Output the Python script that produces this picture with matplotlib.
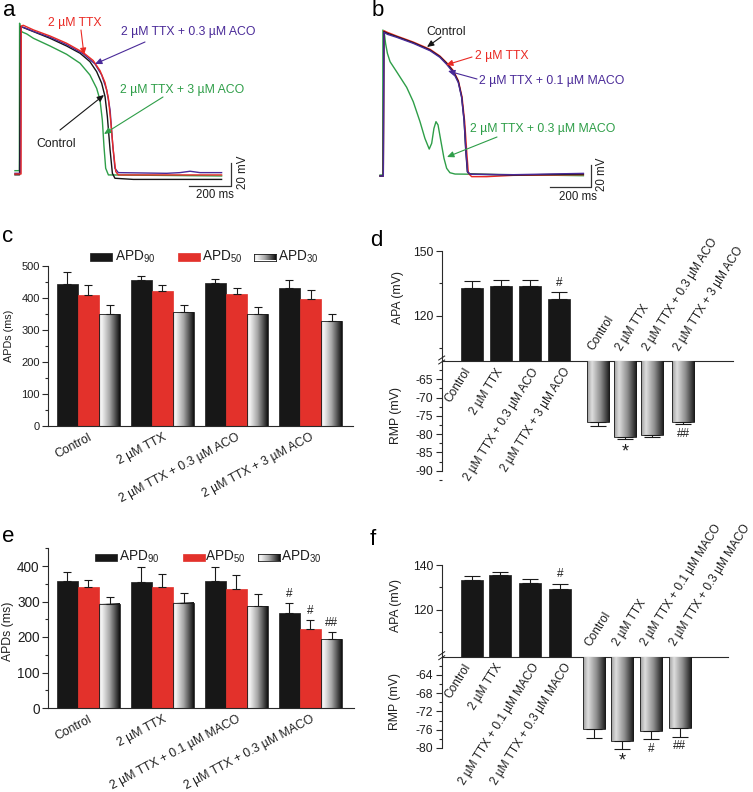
import numpy as np
import matplotlib
matplotlib.use("Agg")
import matplotlib.pyplot as plt
from matplotlib.colors import LinearSegmentedColormap
from matplotlib.patches import Rectangle
from matplotlib.lines import Line2D
from matplotlib.ticker import FixedLocator

plt.rcParams['font.family'] = ['Liberation Sans', 'DejaVu Sans']
plt.rcParams['mathtext.fontset'] = 'custom'
plt.rcParams['mathtext.rm'] = 'Liberation Sans'
plt.rcParams['mathtext.it'] = 'Liberation Sans:italic'
plt.rcParams['axes.unicode_minus'] = False

# ====================== DATA ======================
# Panel a: action potentials (time in ms, potential in mV)
a_ctrl_t = [-24, -2, 3, 16, 64, 143, 222, 286, 333, 365, 389, 405, 416, 429, 440, 452, 540, 960]
a_ctrl_v = [-84, -84, 45, 44, 40.5, 34.7, 28, 21.7, 14.4, 5.7, -4.4, -16, -33.4, -62.4, -82.7, -87, -88, -88]
a_ttx_t = [-24, 5, 6, 16, 64, 143, 222, 302, 349, 381, 405, 421, 433, 444, 456, 468, 960]
a_ttx_v = [-83.3, -83.3, 45.4, 46, 42, 36.7, 30.4, 22.2, 15.3, 6.6, -3.8, -17.5, -39.2, -62.4, -81.2, -84.1, -84.1]
a_aco03_t = [-24, 2, 5, 16, 64, 143, 222, 302, 357, 389, 413, 429, 441, 452, 468, 698, 762, 810, 857, 960]
a_aco03_v = [-82.7, -82.7, 44.3, 44.3, 40.8, 35.6, 29.2, 21.1, 12.4, 2.8, -10.2, -27.6, -56.6, -78.3, -82.1, -82.7, -82.1, -80.9, -82.1, -82.1]
a_aco3_t = [-24, -3, -2, 3, 10, 32, 64, 143, 222, 286, 333, 365, 381, 392, 400, 408, 421, 960]
a_aco3_v = [-80.4, -80.4, 47.8, 42, 40.2, 38.5, 34.7, 28, 20.8, 13, 2.8, -8.8, -18.9, -36.3, -59.5, -78.3, -84.1, -85]

# Panel b: action potentials (time in ms, potential in mV)
b_ctrl_t = [-16, 0, 3, 20, 65, 146, 228, 276, 309, 342, 366, 382, 394, 402, 410, 423, 634, 976]
b_ctrl_v = [-85, -85, 46.2, 44.7, 41.7, 36.2, 29.5, 23.5, 17.4, 9.8, 0.8, -12.9, -34.1, -61.4, -81.1, -83.2, -84.1, -83.2]
b_ttx_t = [-16, 0, 3, 20, 65, 146, 228, 276, 309, 342, 366, 384, 397, 407, 415, 431, 504, 634, 976]
b_ttx_v = [-85, -85, 47.1, 45.6, 42.3, 36.8, 30.2, 24.1, 18.0, 10.8, 1.7, -12.9, -35.6, -62.9, -82.6, -85.6, -85.6, -84.4, -83.8]
b_maco01_t = [-16, 0, 3, 20, 65, 146, 228, 276, 309, 342, 366, 382, 394, 403, 411, 426, 634, 976]
b_maco01_v = [-85, -85, 45.6, 43.8, 41.1, 35.6, 28.9, 22.9, 16.5, 8.9, -0.2, -13.5, -34.7, -62, -81.4, -83.5, -83.8, -82.6]
b_maco03_t = [-16, -3, -2, 5, 11, 20, 33, 65, 114, 146, 179, 203, 224, 236, 247, 257, 267, 280, 296, 309, 325, 350, 634, 976]
b_maco03_v = [-84.1, -84.1, 47.7, 44.7, 35.6, 26.5, 18.9, 9.8, -4.4, -17.4, -35.6, -50.8, -60.5, -55.3, -41.7, -35.6, -38.6, -52.3, -68.9, -78, -82, -83.2, -83.8, -84.7]

SCALE_MS = 200
SCALE_MV = 20

# Panel c: APDs (ms)
groups_c = ['Control', '2 µM TTX', '2 µM TTX + 0.3 µM ACO', '2 µM TTX + 3 µM ACO']
apd90_c = [443, 455, 446, 430]
apd90_c_err = [36, 13, 13, 24]
apd50_c = [407, 420, 413, 395]
apd50_c_err = [33, 21, 17, 29]
apd30_c = [348, 356, 349, 328]
apd30_c_err = [29, 20, 22, 22]

# Panel d: APA / RMP (mV)
groups_d = ['Control', '2 µM TTX', '2 µM TTX + 0.3 µM ACO', '2 µM TTX + 3 µM ACO']
apa_d = [133.1, 133.9, 133.6, 128.0]
apa_d_err = [3.1, 2.9, 2.8, 2.8]
rmp_d = [-76.7, -80.9, -80.3, -76.7]
rmp_d_err = [1.1, 0.5, 0.6, 0.6]
apa_d_sig = ['', '', '', '#']
rmp_d_sig = ['', '*', '', '##']

# Panel e: APDs (ms)
groups_e = ['Control', '2 µM TTX', '2 µM TTX + 0.1 µM MACO', '2 µM TTX + 0.3 µM MACO']
apd90_e = [358, 355, 357, 268]
apd90_e_err = [24, 43, 41, 29]
apd50_e = [341, 342, 335, 223]
apd50_e_err = [20, 35, 39, 24]
apd30_e = [293, 297, 286, 193]
apd30_e_err = [19, 28, 36, 22]
apd90_e_sig = ['', '', '', '#']
apd50_e_sig = ['', '', '', '#']
apd30_e_sig = ['', '', '', '##']

# Panel f: APA / RMP (mV)
groups_f = ['Control', '2 µM TTX', '2 µM TTX + 0.1 µM MACO', '2 µM TTX + 0.3 µM MACO']
apa_f = [133.3, 135.4, 132.1, 129.3]
apa_f_err = [1.8, 1.4, 1.8, 2.3]
rmp_f = [-75.8, -78.5, -76.3, -75.7]
rmp_f_err = [2.1, 1.7, 1.7, 1.8]
apa_f_sig = ['', '', '', '#']
rmp_f_sig = ['', '*', '#', '##']

legend_labels = ['APD$_{90}$', 'APD$_{50}$', 'APD$_{30}$']

# ====================== STYLE / LAYOUT ======================
W, H = 753, 792
fig = plt.figure(figsize=(W / 100, H / 100), dpi=100)

BLACK = '#171717'
RED = '#e3312b'
EDGE = '#1a1a1a'
AXC = '#2a2a2a'
C_CTRL = '#151515'
C_TTX = '#ea2a24'
C_BLUE = '#4a2a98'
C_GREEN = '#2e9e48'
TXT = '#1e1e1e'

GRAD = np.linspace(0, 1, 256).reshape(1, -1)
cm_apd = LinearSegmentedColormap.from_list('apd30', [(0, '#d0d0d0'), (0.12, '#f6f6f6'), (0.5, '#a8a8a8'), (1, '#0e0e0e')])
cm_rmp = LinearSegmentedColormap.from_list('rmp', [(0, '#9a9a9a'), (0.22, '#dedede'), (0.6, '#8c8c8c'), (1, '#151515')])


def add_ax(l, t, r, b):
    return fig.add_axes([l / W, 1 - b / H, (r - l) / W, (b - t) / H])


def F(x, y):
    return (x / W, 1 - y / H)


def ftext(x, y, s, **kw):
    fig.text(x / W, 1 - y / H, s, **kw)


def farrow(x1, y1, x2, y2, color):
    fig.add_artist(matplotlib.patches.FancyArrowPatch(
        F(x1, y1), F(x2, y2), transform=fig.transFigure,
        arrowstyle='-|>,head_length=4,head_width=1.8', lw=0.8, color=color,
        shrinkA=0, shrinkB=0))


def fline(x1, y1, x2, y2, color='#222', lw=0.9):
    fig.add_artist(Line2D([x1 / W, x2 / W], [1 - y1 / H, 1 - y2 / H], transform=fig.transFigure,
                          color=color, lw=lw))


def grad_fill(ax, patches, cmap):
    for p in patches:
        x0, y0, w, h = p.get_x(), p.get_y(), p.get_width(), p.get_height()
        ax.imshow(GRAD, extent=(x0, x0 + w, min(y0, y0 + h), max(y0, y0 + h)), aspect='auto',
                  cmap=cmap, interpolation='bilinear', zorder=1.5)


def style_left(ax, fs):
    for s in ['top', 'right', 'bottom']:
        ax.spines[s].set_visible(False)
    ax.spines['left'].set_color(AXC)
    ax.spines['left'].set_linewidth(0.8)
    ax.tick_params(axis='y', which='major', length=4, width=0.8, color=AXC, labelsize=fs, pad=2,
                   labelcolor=TXT)
    ax.tick_params(axis='y', which='minor', length=2.2, width=0.8, color=AXC)
    ax.patch.set_alpha(0)


# ====================== PANEL a ======================
axa = add_ax(10, 10, 260, 200)
axa.axis('off')
for t, v, c in [(a_aco3_t, a_aco3_v, C_GREEN), (a_ctrl_t, a_ctrl_v, C_CTRL),
                (a_aco03_t, a_aco03_v, C_BLUE), (a_ttx_t, a_ttx_v, C_TTX)]:
    axa.plot(t, v, color=c, lw=1.0, solid_joinstyle='round')
axa.set_xlim(-47.6, 1142.9)
axa.set_ylim(-105.9, 59.3)
sx, sy = 1004.8, -93.7
axa.plot([sx - SCALE_MS, sx, sx], [sy, sy, sy + SCALE_MV], color='#333', lw=0.9)

ftext(3, 16, 'a', fontsize=16, va='baseline')
ftext(75, 23, '2 µM TTX', color=C_TTX, fontsize=8.8, ha='center', va='center')
farrow(81, 30, 84, 55, C_TTX)
ftext(188, 32, '2 µM TTX + 0.3 µM ACO', color=C_BLUE, fontsize=8.8, ha='center', va='center')
farrow(145, 42, 95, 64, C_BLUE)
ftext(182, 90, '2 µM TTX + 3 µM ACO', color=C_GREEN, fontsize=8.8, ha='center', va='center')
farrow(163, 97, 104, 134, C_GREEN)
ftext(56, 144, 'Control', color=TXT, fontsize=8.8, ha='center', va='center')
farrow(60, 130, 104, 95, C_CTRL)
ftext(243, 172, '20 mV', fontsize=8.3, rotation=90, ha='center', va='center', color=TXT)
ftext(215, 195, '200 ms', fontsize=8.3, ha='center', va='center', color=TXT)

# ====================== PANEL b ======================
axb = add_ax(375, 10, 620, 200)
axb.axis('off')
for t, v, c in [(b_maco03_t, b_maco03_v, C_GREEN), (b_ttx_t, b_ttx_v, C_TTX),
                (b_ctrl_t, b_ctrl_v, C_CTRL), (b_maco01_t, b_maco01_v, C_BLUE)]:
    axb.plot(t, v, color=c, lw=1.0, solid_joinstyle='round')
axb.set_xlim(-40.5, 1154.6)
axb.set_ylim(-106.8, 65.9)
sx, sy = 1013, -95
axb.plot([sx - SCALE_MS, sx, sx], [sy, sy, sy + SCALE_MV], color='#333', lw=0.9)

ftext(372, 16, 'b', fontsize=16, va='baseline')
ftext(446, 32, 'Control', color=TXT, fontsize=8.8, ha='center', va='center')
farrow(441, 37, 427, 47, C_CTRL)
ftext(502, 56, '2 µM TTX', color=C_TTX, fontsize=8.8, ha='center', va='center')
farrow(472, 57, 446, 65, C_TTX)
ftext(552, 81, '2 µM TTX + 0.1 µM MACO', color=C_BLUE, fontsize=8.8, ha='center', va='center')
farrow(477, 79, 448, 71, C_BLUE)
ftext(543, 129, '2 µM TTX + 0.3 µM MACO', color=C_GREEN, fontsize=8.8, ha='center', va='center')
farrow(497, 137, 447, 157, C_GREEN)
ftext(602, 174, '20 mV', fontsize=8.3, rotation=90, ha='center', va='center', color=TXT)
ftext(578, 197, '200 ms', fontsize=8.3, ha='center', va='center', color=TXT)


# ====================== APD panels (c, e) ======================
def apd_panel(box, xlim, ylim, spine_top, major, minor, fs, groups, series, errs, sigs,
              legend_y, legend_rects, legend_text_x, ylabel_xy, ylabel_fs, capsize):
    ax = add_ax(*box)
    style_left(ax, fs)
    x = np.arange(len(groups))
    step, w = 0.287, 0.28
    colors = [BLACK, RED, None]
    for i, (vals, err) in enumerate(zip(series, errs)):
        pos = x + (i - 1) * step
        if colors[i] is None:
            bars = ax.bar(pos, vals, width=w, facecolor='none', edgecolor=EDGE, lw=0.6, zorder=2)
            grad_fill(ax, bars.patches, cm_apd)
        else:
            ax.bar(pos, vals, width=w, color=colors[i], edgecolor=EDGE if i == 0 else colors[i],
                   lw=0.5, zorder=2)
        ax.errorbar(pos, vals, yerr=[np.zeros(len(vals)), err], fmt='none', ecolor='#1a1a1a',
                    elinewidth=0.8, capsize=capsize, capthick=0.8, zorder=3)
        if sigs is not None:
            for p, v, e, s in zip(pos, vals, err, sigs[i]):
                if s:
                    ax.annotate(s, (p, v + e), xytext=(0, 6.5), textcoords='offset points',
                                ha='center', va='center', fontsize=8.5, color=TXT)
    ax.set_xlim(*xlim)
    ax.set_ylim(*ylim)
    ax.spines['left'].set_bounds(0, spine_top)
    ax.yaxis.set_major_locator(FixedLocator(major))
    ax.yaxis.set_minor_locator(FixedLocator(minor))
    ax.spines['bottom'].set_visible(True)
    ax.spines['bottom'].set_color(AXC)
    ax.spines['bottom'].set_linewidth(0.8)
    ax.set_xticks(x)
    ax.set_xticklabels(groups, rotation=28, ha='right', va='top', rotation_mode='anchor', fontsize=8.8,
                       color=TXT)
    ax.tick_params(axis='x', length=0, pad=4)
    # legend
    for k, (lx, tx) in enumerate(zip(legend_rects, legend_text_x)):
        if k < 2:
            fig.add_artist(Rectangle(F(lx, legend_y + 3.5), 22 / W, 7 / H, transform=fig.transFigure,
                                     facecolor=[BLACK, RED][k], edgecolor=EDGE if k == 0 else RED,
                                     lw=0.5))
        else:
            lax = add_ax(lx, legend_y - 3.5, lx + 22, legend_y + 3.5)
            lax.imshow(GRAD, aspect='auto', cmap=cm_apd, extent=(0, 1, 0, 1), interpolation='bilinear')
            lax.set_xticks([]); lax.set_yticks([])
            for s in lax.spines.values():
                s.set_linewidth(0.6); s.set_color(EDGE)
        ftext(tx, legend_y, legend_labels[k], fontsize=9.8, va='center', ha='left', color=TXT)
    ftext(ylabel_xy[0], ylabel_xy[1], 'APDs (ms)', rotation=90, ha='center', va='center',
          fontsize=ylabel_fs, color=TXT)
    return ax


apd_panel((48, 252.9, 353, 425.7), (-0.547, 3.574), (0, 540), 500,
          [0, 100, 200, 300, 400, 500], [50, 150, 250, 350, 450], 8, groups_c,
          [apd90_c, apd50_c, apd30_c], [apd90_c_err, apd50_c_err, apd30_c_err], None,
          257, [90, 178, 254], [115, 202, 278], (9, 336), 7.8, 3.2)
ftext(2, 242, 'c', fontsize=16, va='baseline')

apd_panel((48, 537.6, 354, 708), (-0.547, 3.588), (0, 480), 450,
          [0, 100, 200, 300, 400], [50, 150, 250, 350, 450], 9.8, groups_e,
          [apd90_e, apd50_e, apd30_e], [apd90_e_err, apd50_e_err, apd30_e_err],
          [apd90_e_sig, apd50_e_sig, apd30_e_sig],
          557, [95, 183, 258], [119, 205, 281], (8, 631), 8.8, 3.0)
ftext(2, 542, 'e', fontsize=16, va='baseline')


# ====================== APA / RMP panels (d, f) ======================
def amp_panel(top_box, bot_box, xlim, apa_ylim, apa_major, apa_minor, rmp_ylim, rmp_bounds,
              rmp_major, rmp_minor, apa_pos, rmp_pos, w, apa, apa_err, rmp, rmp_err, groups,
              apa_sig, rmp_sig, lo_label_y, ylabels, capsize):
    axu = add_ax(*top_box)
    axl = add_ax(*bot_box)
    style_left(axu, 8.8)
    style_left(axl, 8.8)
    axu.spines['bottom'].set_visible(True)
    axu.spines['bottom'].set_color(AXC)
    axu.spines['bottom'].set_linewidth(0.8)
    axu.tick_params(axis='x', length=0, labelbottom=False)
    axl.tick_params(axis='x', length=0, labelbottom=False)

    axu.bar(apa_pos, apa, width=w, color=BLACK, edgecolor=EDGE, lw=0.5, zorder=2)
    axu.errorbar(apa_pos, apa, yerr=[np.zeros(len(apa)), apa_err], fmt='none', ecolor='#1a1a1a',
                 elinewidth=0.8, capsize=capsize, capthick=0.8, zorder=3)
    for p, v, e, s in zip(apa_pos, apa, apa_err, apa_sig):
        if s:
            axu.annotate(s, (p, v + e), xytext=(0, 7), textcoords='offset points',
                         ha='center', va='center', fontsize=8.5, color=TXT)

    bars = axl.bar(rmp_pos, rmp, width=w, facecolor='none', edgecolor=EDGE, lw=0.6, zorder=2)
    grad_fill(axl, bars.patches, cm_rmp)
    axl.errorbar(rmp_pos, rmp, yerr=[rmp_err, np.zeros(len(rmp))], fmt='none', ecolor='#1a1a1a',
                 elinewidth=0.8, capsize=capsize, capthick=0.8, zorder=3)
    for p, v, e, s in zip(rmp_pos, rmp, rmp_err, rmp_sig):
        if s:
            axl.annotate(s, (p, v - e), xytext=(0, -9 if s == '*' else -7), textcoords='offset points',
                         ha='center', va='center', fontsize=13 if s == '*' else 8.5, color=TXT)

    axu.set_xlim(*xlim); axl.set_xlim(*xlim)
    axu.set_ylim(*apa_ylim)
    axl.set_ylim(*rmp_ylim)
    axu.yaxis.set_major_locator(FixedLocator(apa_major))
    axu.yaxis.set_minor_locator(FixedLocator(apa_minor))
    axl.yaxis.set_major_locator(FixedLocator(rmp_major))
    axl.yaxis.set_minor_locator(FixedLocator(rmp_minor))
    axl.spines['left'].set_bounds(*rmp_bounds)

    lo_offsets = [-0.32, -0.2, 0.04, 0.13]
    for p, off, g in zip(apa_pos, lo_offsets, groups):
        axl.text(p + off, lo_label_y, g, rotation=58, ha='right', va='top', rotation_mode='anchor',
                 fontsize=8.6, color=TXT)
    for p, g in zip(rmp_pos, groups):
        axu.text(p - 0.05, apa_ylim[0] + 3.7, g, rotation=58, ha='left', va='bottom',
                 rotation_mode='anchor', fontsize=8.6, color=TXT)

    # axis break marks
    bx = top_box[0]
    by = top_box[3]
    fline(bx - 3, by - 1, bx + 3, by - 5, lw=0.7)
    fline(bx - 3, by + 3, bx + 3, by - 1, lw=0.7)
    (ax1, ay1), (ax2, ay2) = ylabels
    ftext(ax1, ay1, 'APA (mV)', rotation=90, ha='center', va='center', fontsize=8.8, color=TXT)
    ftext(ax2, ay2, 'RMP (mV)', rotation=90, ha='center', va='center', fontsize=8.8, color=TXT)


amp_panel((441.7, 251, 733, 361), (441.7, 361, 733, 489), (-1.045, 9.0),
          (99.1, 150), [120, 150], [105, 135],
          (-95, -60), (-90, -60), [-90, -85, -80, -75, -70, -65],
          [-92.5, -87.5, -82.5, -77.5, -72.5, -67.5, -62.5],
          [0, 1, 2, 3], [4.34, 5.28, 6.21, 7.28], 0.776,
          apa_d, apa_d_err, rmp_d, rmp_d_err, groups_d, apa_d_sig, rmp_d_sig,
          -61.4, ((397.5, 297.5), (396, 415)), 5.5)
ftext(370, 246, 'd', fontsize=16, va='baseline')

amp_panel((441.7, 565, 728, 656.7), (441.7, 656.7, 728, 752.5), (-1.045, 8.83),
          (99.2, 140), [120, 140], [110, 130],
          (-81, -60), (-80, -60), [-80, -76, -72, -68, -64],
          [-78, -74, -70, -66, -62],
          [0, 0.97, 2, 3.03], [4.22, 5.19, 6.17, 7.17], 0.76,
          apa_f, apa_f_err, rmp_f, rmp_f_err, groups_f, apa_f_sig, rmp_f_sig,
          -61.1, ((396, 605), (395, 702)), 5.5)
ftext(370, 545, 'f', fontsize=16, va='baseline')

fig.savefig('out.png', dpi=100)
